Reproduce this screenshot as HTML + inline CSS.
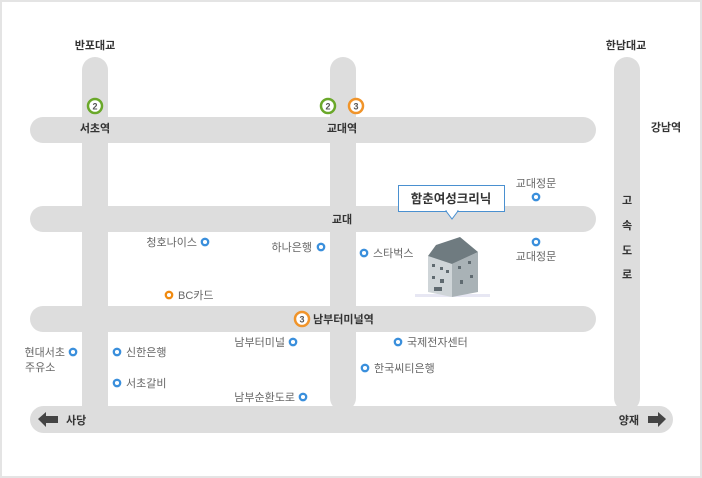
<!DOCTYPE html>
<html><head><meta charset="utf-8"><style>
html,body{margin:0;padding:0;background:#fff}
body{width:702px;height:478px;overflow:hidden}
svg{display:block}
text{font-family:"Liberation Sans","Noto Sans CJK KR",sans-serif}
.b{font-size:11px;font-weight:bold;fill:#333}
.p{font-size:11px;fill:#666}
</style></head><body>
<svg width="702" height="478" viewBox="0 0 702 478" xmlns="http://www.w3.org/2000/svg">
<rect x="1" y="1" width="700" height="476" fill="#fff" stroke="#e4e4e4" stroke-width="2"/>
<g fill="#dddddd">
<rect x="82" y="57" width="26" height="376" rx="13"/>
<rect x="330" y="57" width="26" height="354" rx="13"/>
<rect x="614" y="57" width="26" height="354" rx="13"/>
<rect x="30" y="117" width="566" height="26" rx="13"/>
<rect x="30" y="206" width="566" height="26" rx="13"/>
<rect x="30" y="306" width="566" height="26" rx="13"/>
<rect x="30" y="406" width="643" height="27" rx="13.5"/>
</g>
<text class="b" x="95" y="49" text-anchor="middle">반포대교</text>
<text class="b" x="626" y="49" text-anchor="middle">한남대교</text>
<text class="b" x="666" y="131" text-anchor="middle">강남역</text>
<text class="b" x="95" y="132" text-anchor="middle">서초역</text>
<text class="b" x="342" y="132" text-anchor="middle">교대역</text>
<text class="b" x="342" y="223" text-anchor="middle">교대</text>
<g class="b" text-anchor="middle"><text x="627" y="204" class="b">고</text><text x="627" y="229" class="b">속</text><text x="627" y="254" class="b">도</text><text x="627" y="278" class="b">로</text></g>
<g fill="#fff" stroke-width="2.5">
<circle cx="95" cy="106" r="7" stroke="#6aa82a"/>
<circle cx="328" cy="106" r="7" stroke="#6aa82a"/>
<circle cx="356" cy="106" r="7" stroke="#f0942a"/>
<circle cx="302" cy="319" r="7" stroke="#f0942a"/>
</g>
<g font-size="9" fill="#555" text-anchor="middle" font-weight="bold">
<text x="95" y="109.5">2</text><text x="328" y="109.5">2</text><text x="356" y="109.5">3</text><text x="302" y="322.5">3</text>
</g>
<text class="b" x="313" y="323">남부터미널역</text>
<!-- building -->
<g>
<rect x="415" y="294" width="75" height="3" fill="#dde" opacity=".7"/>
<polygon points="428,256 452,264 452,297 428,292" fill="#cfd5d8"/>
<polygon points="452,264 478,252 478,292 452,297" fill="#a9b2b6"/>
<polygon points="428,256 436,245 460,237 478,252 452,264" fill="#6f7b80"/>
<g fill="#5f6a70">
<rect x="432" y="264" width="3" height="3"/><rect x="440" y="267" width="3" height="3"/><rect x="446" y="270" width="3" height="3"/>
<rect x="432" y="276" width="3" height="3"/><rect x="440" y="279" width="4" height="4"/><rect x="434" y="287" width="8" height="4"/>
<rect x="458" y="266" width="3" height="3"/><rect x="468" y="261" width="3" height="3"/><rect x="460" y="280" width="3" height="4"/><rect x="470" y="275" width="3" height="3"/>
</g>
</g>
<!-- callout -->
<rect x="398.5" y="185.5" width="106" height="26" fill="#fff" stroke="#4a90d0"/>
<polygon points="446,211 458,211 452,219" fill="#fff" stroke="#4a90d0"/>
<rect x="447" y="209" width="10" height="2.5" fill="#fff"/>
<text x="451" y="203" text-anchor="middle" font-size="12.5" font-weight="bold" fill="#333">함춘여성크리닉</text>
<!-- POIs -->
<g fill="#fff" stroke="#3a8fdc" stroke-width="2.3">
<circle cx="536" cy="197" r="3.2"/><circle cx="536" cy="242" r="3.2"/>
<circle cx="364" cy="253" r="3.2"/><circle cx="205" cy="242" r="3.2"/><circle cx="321" cy="247" r="3.2"/>
<circle cx="73" cy="352" r="3.2"/><circle cx="117" cy="352" r="3.2"/><circle cx="293" cy="342" r="3.2"/>
<circle cx="398" cy="342" r="3.2"/><circle cx="365" cy="368" r="3.2"/><circle cx="117" cy="383" r="3.2"/><circle cx="303" cy="397" r="3.2"/>
<circle cx="169" cy="295" r="3.2" stroke="#f08a10"/>
</g>
<text class="p" x="536" y="187" text-anchor="middle">교대정문</text>
<text class="p" x="536" y="260" text-anchor="middle">교대정문</text>
<text class="p" x="373" y="257">스타벅스</text>
<text class="p" x="197" y="246" text-anchor="end">청호나이스</text>
<text class="p" x="312" y="251" text-anchor="end">하나은행</text>
<text class="p" x="178" y="299">BC카드</text>
<text class="p" x="65" y="356" text-anchor="end">현대서초</text>
<text class="p" x="25" y="371">주유소</text>
<text class="p" x="126" y="356">신한은행</text>
<text class="p" x="285" y="346" text-anchor="end">남부터미널</text>
<text class="p" x="407" y="346">국제전자센터</text>
<text class="p" x="374" y="372">한국씨티은행</text>
<text class="p" x="126" y="387">서초갈비</text>
<text class="p" x="295" y="401" text-anchor="end">남부순환도로</text>
<!-- arrows -->
<polygon points="38,419 46,412 46,416 58,416 58,423 46,423 46,427" fill="#444"/>
<polygon points="666,419 658,412 658,416 648,416 648,423 658,423 658,427" fill="#444"/>
<text class="b" x="66" y="424">사당</text>
<text class="b" x="639" y="424" text-anchor="end">양재</text>
</svg>
</body></html>
